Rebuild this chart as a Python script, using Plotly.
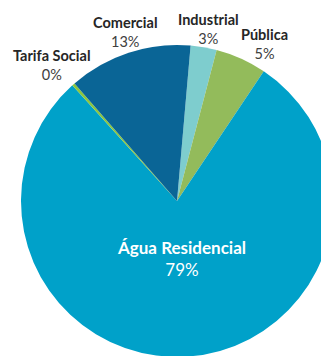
import plotly.graph_objects as go

labels = ["Industrial", "Pública", "Água Residencial", "Tarifa Social", "Comercial"]
values = [2.7, 5.3, 78.9, 0.3, 12.8]
colors = ["#7ECDCE", "#93BB5B", "#00A1C9", "#8CC63E", "#0A6596"]

W, H = 354, 402
cx, cy, r = 177, 201, 156

fig = go.Figure(go.Pie(
    labels=labels, values=values, sort=False, direction="clockwise", rotation=5,
    marker=dict(colors=colors, line=dict(width=0)),
    textinfo="none", hoverinfo="skip", showlegend=False,
    domain=dict(x=[0, 1], y=[(H - (cy + r)) / H, (H - (cy - r)) / H]),
))

total = sum(values)
label_pos = {
    "Industrial": (208, 29),
    "Pública": (264, 44),
    "Água Residencial": (181, 258),
    "Tarifa Social": (52, 65),
    "Comercial": (125, 32),
}
for lab, v in zip(labels, values):
    px, py = label_pos[lab]
    inside = lab == "Água Residencial"
    name_col = "white" if inside else "#262626"
    pct_col = "white" if inside else "#404040"
    txt = (f"<b><span style='color:{name_col}'>{lab}</span></b><br>"
           f"<span style='color:{pct_col}'>{round(v / total * 100):.0f}%</span>")
    fig.add_annotation(x=px / W, y=1 - py / H, xref="paper", yref="paper",
                       text=txt, showarrow=False, xanchor="center", yanchor="middle",
                       font=dict(family="Lato", size=17 if inside else 14.5))

fig.update_layout(width=W, height=H, margin=dict(l=0, r=0, t=0, b=0),
                  paper_bgcolor="white", plot_bgcolor="white")
fig.write_html("out.html", post_script="document.body.style.overflow='hidden';document.body.style.margin='0';")
